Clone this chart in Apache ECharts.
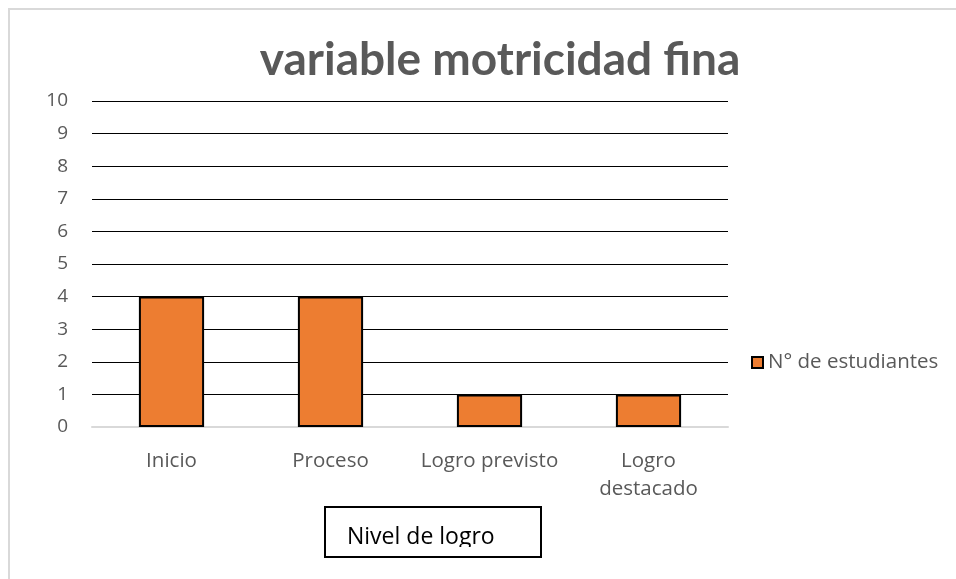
<!DOCTYPE html>
<html>
<head>
<meta charset="utf-8">
<script src="https://cdn.jsdelivr.net/npm/echarts@6/dist/echarts.min.js"></script>
<style>
  html, body { margin: 0; padding: 0; background: #fff; }
  #main { width: 956px; height: 579px; }
</style>
</head>
<body>
<div id="main"></div>
<script>
var categories = ['Inicio', 'Proceso', 'Logro previsto', 'Logro\ndestacado'];
var estudiantes = [4, 4, 1, 1];
var seriesName = 'N° de estudiantes';
var chartTitle = 'variable motricidad fina';
var axisTitle = 'Nivel de logro';

var labelFont = "'Open Sans', 'Noto Sans', sans-serif";

var option = {
    backgroundColor: '#fff',
    animation: false,
    title: {
        text: chartTitle,
        left: 495,
        top: 32,
        textAlign: 'center',
        textStyle: {
            fontFamily: "Lato, 'Open Sans', sans-serif",
            fontWeight: 'bold',
            fontSize: 46,
            color: '#595959'
        }
    },
    legend: {
        data: [seriesName],
        left: 751,
        top: 352,
        padding: 0,
        itemWidth: 11,
        itemHeight: 11,
        itemGap: 5,
        icon: 'rect',
        textStyle: {
            fontFamily: labelFont,
            fontSize: 20.5,
            color: '#595959'
        }
    },
    grid: {
        left: 92,
        right: 228,
        top: 101,
        bottom: 152,
        containLabel: false
    },
    xAxis: {
        type: 'category',
        data: categories,
        axisLine: { show: true, lineStyle: { color: '#d9d9d9', width: 2 } },
        axisTick: { show: false },
        axisLabel: {
            show: true,
            margin: 20,
            fontFamily: labelFont,
            fontSize: 20.5,
            lineHeight: 28,
            color: '#595959',
            interval: 0
        }
    },
    yAxis: {
        type: 'value',
        min: 0,
        max: 10,
        interval: 1,
        axisLine: { show: false },
        axisTick: { show: false },
        axisLabel: {
            show: true,
            margin: 24,
            fontFamily: labelFont,
            fontSize: 19,
            color: '#595959'
        },
        splitLine: {
            show: true,
            lineStyle: { color: '#000', width: 1, type: 'solid' }
        }
    },
    series: [{
        name: seriesName,
        type: 'bar',
        data: estudiantes,
        barWidth: '41%',
        itemStyle: {
            color: '#ed7d31',
            borderColor: '#000',
            borderWidth: 2
        }
    }],
    graphic: [
        {
            type: 'rect',
            shape: { x: 9, y: 9, width: 1000, height: 700 },
            style: { fill: 'none', stroke: '#d9d9d9', lineWidth: 2 },
            silent: true
        },
        {
            type: 'rect',
            shape: { x: 325, y: 507, width: 216, height: 50 },
            style: { fill: '#fff', stroke: '#000', lineWidth: 2 },
            z: 10
        },
        {
            type: 'text',
            left: 347,
            top: 526,
            style: {
                text: axisTitle,
                fontFamily: labelFont,
                fontSize: 23,
                fill: '#000'
            },
            z: 11
        },
        {
            type: 'rect',
            shape: { x: 327, y: 547, width: 212, height: 9 },
            style: { fill: '#fff' },
            z: 12
        }
    ]
};

var dom = document.getElementById('main');
var myChart = echarts.init(dom);
myChart.setOption(option);
</script>
</body>
</html>
